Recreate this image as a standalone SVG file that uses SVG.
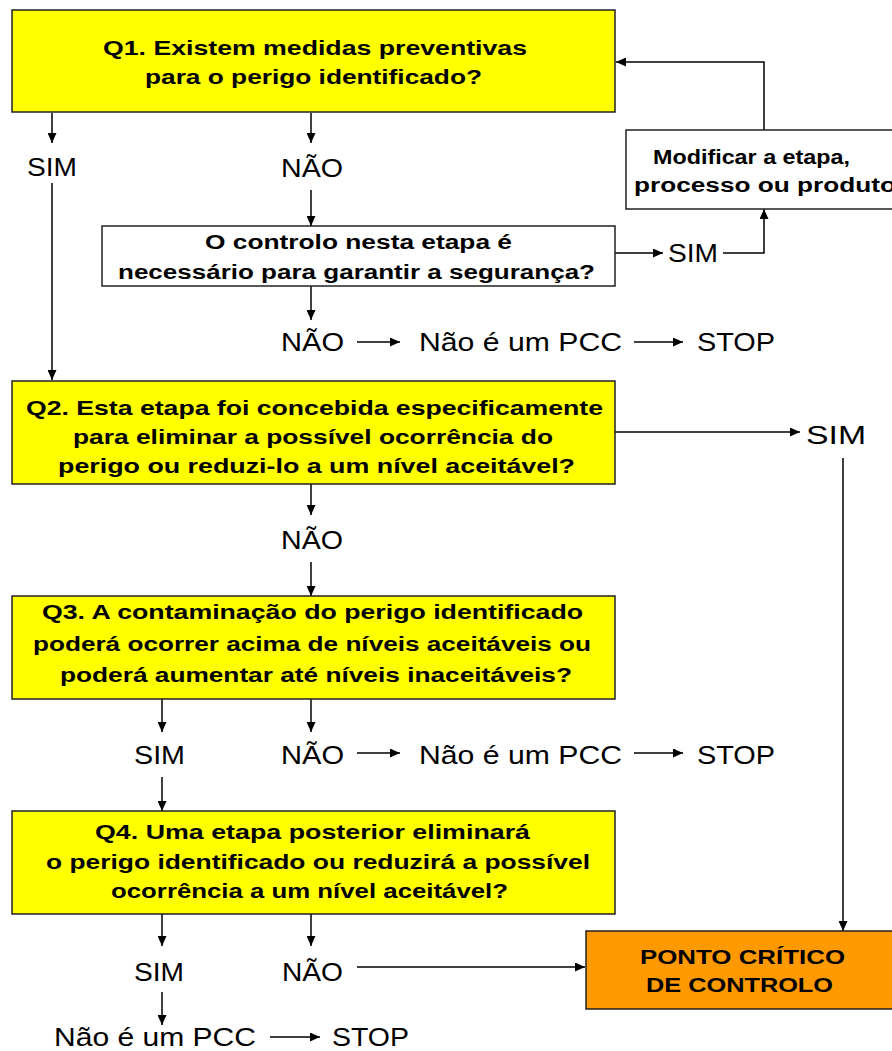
<svg xmlns="http://www.w3.org/2000/svg" width="892" height="1051" viewBox="0 0 892 1051">
<defs>
<marker id="ah" markerUnits="userSpaceOnUse" markerWidth="10" markerHeight="9" refX="10" refY="4.5" orient="auto">
<path d="M0,0 L10,4.5 L0,9 z" fill="#000"/>
</marker>
<style>
.q{fill:#FFFF00;stroke:#222;stroke-width:1.5}
.w{fill:#FFFFFF;stroke:#222;stroke-width:1.5}
.o{fill:#FF9900;stroke:#222;stroke-width:1.5}
.bt{font-family:"Liberation Sans",Arial,sans-serif;font-weight:bold;font-size:20px;fill:#000}
.lb{font-family:"Liberation Sans",Arial,sans-serif;font-size:25px;fill:#000}
.c{fill:none;stroke:#000;stroke-width:1.5}
.a{marker-end:url(#ah)}
</style>
</defs>
<rect width="892" height="1051" fill="#fff"/>

<g id="connectors">
<path class="c a" d="M52,113 V143"/>
<path class="c a" d="M311,113 V143"/>
<path class="c a" d="M52,183 V380"/>
<path class="c a" d="M311,190 V226"/>
<path class="c a" d="M615,253 H663"/>
<path class="c a" d="M723,253 H764 V209"/>
<path class="c a" d="M764,130 V62 H616"/>
<path class="c a" d="M311,286 V320"/>
<path class="c a" d="M357,342 H400"/>
<path class="c a" d="M634,342 H683"/>
<path class="c a" d="M615,432 H800"/>
<path class="c a" d="M843,458 V931"/>
<path class="c a" d="M311,484 V515"/>
<path class="c a" d="M311,562 V596"/>
<path class="c a" d="M162,699 V732"/>
<path class="c a" d="M311,699 V732"/>
<path class="c a" d="M357,753 H400"/>
<path class="c a" d="M634,753 H683"/>
<path class="c a" d="M162,777 V811"/>
<path class="c a" d="M162,914 V946"/>
<path class="c a" d="M311,914 V946"/>
<path class="c a" d="M357,967 H585"/>
<path class="c a" d="M162,992 V1025"/>
<path class="c a" d="M270,1037 H320"/>
</g>

<g id="q1">
<rect class="q" x="12" y="10" width="603" height="102"/>
<text class="bt" x="103" y="55" textLength="424" lengthAdjust="spacingAndGlyphs">Q1.  Existem medidas preventivas</text>
<text class="bt" x="145" y="84" textLength="337" lengthAdjust="spacingAndGlyphs">para o perigo identificado?</text>
</g>

<g id="q1-sim"><text class="lb" x="27" y="176" textLength="50" lengthAdjust="spacingAndGlyphs">SIM</text></g>
<g id="q1-nao"><text class="lb" x="281" y="177" textLength="62" lengthAdjust="spacingAndGlyphs">NÃO</text></g>

<g id="controlo">
<rect class="w" x="102" y="226" width="513" height="60"/>
<text class="bt" x="205" y="249" textLength="307" lengthAdjust="spacingAndGlyphs">O controlo nesta etapa é</text>
<text class="bt" x="118" y="279" textLength="477" lengthAdjust="spacingAndGlyphs">necessário para garantir a segurança?</text>
</g>

<g id="controlo-sim"><text class="lb" x="668" y="262" textLength="50" lengthAdjust="spacingAndGlyphs">SIM</text></g>

<g id="modificar">
<rect class="w" x="626" y="130" width="280" height="79"/>
<text class="bt" x="653" y="164" textLength="197" lengthAdjust="spacingAndGlyphs">Modificar a etapa,</text>
<text class="bt" x="634" y="192" textLength="262" lengthAdjust="spacingAndGlyphs">processo ou produto</text>
</g>

<g id="controlo-nao">
<text class="lb" x="281" y="351" textLength="63" lengthAdjust="spacingAndGlyphs">NÃO</text>
<text class="lb" x="419" y="351" textLength="203" lengthAdjust="spacingAndGlyphs">Não é um PCC</text>
<text class="lb" x="697" y="351" textLength="78" lengthAdjust="spacingAndGlyphs">STOP</text>
</g>

<g id="q2">
<rect class="q" x="12" y="381" width="603" height="103"/>
<text class="bt" x="26" y="415" textLength="577" lengthAdjust="spacingAndGlyphs">Q2.  Esta etapa foi concebida especificamente</text>
<text class="bt" x="73" y="444" textLength="480" lengthAdjust="spacingAndGlyphs">para eliminar a possível ocorrência do</text>
<text class="bt" x="58" y="473" textLength="517" lengthAdjust="spacingAndGlyphs">perigo ou reduzi-lo a um  nível aceitável?</text>
</g>

<g id="q2-sim"><text class="lb" x="806" y="444" textLength="60" lengthAdjust="spacingAndGlyphs">SIM</text></g>
<g id="q2-nao"><text class="lb" x="281" y="549" textLength="62" lengthAdjust="spacingAndGlyphs">NÃO</text></g>

<g id="q3">
<rect class="q" x="12" y="596" width="603" height="103"/>
<text class="bt" x="42" y="619" textLength="541" lengthAdjust="spacingAndGlyphs">Q3.  A contaminação do perigo identificado</text>
<text class="bt" x="33" y="651" textLength="558" lengthAdjust="spacingAndGlyphs">poderá ocorrer acima de níveis aceitáveis ou</text>
<text class="bt" x="60" y="682" textLength="512" lengthAdjust="spacingAndGlyphs">poderá aumentar até níveis inaceitáveis?</text>
</g>

<g id="q3-sim"><text class="lb" x="134" y="764" textLength="51" lengthAdjust="spacingAndGlyphs">SIM</text></g>
<g id="q3-nao">
<text class="lb" x="281" y="764" textLength="63" lengthAdjust="spacingAndGlyphs">NÃO</text>
<text class="lb" x="419" y="764" textLength="203" lengthAdjust="spacingAndGlyphs">Não é um PCC</text>
<text class="lb" x="697" y="764" textLength="78" lengthAdjust="spacingAndGlyphs">STOP</text>
</g>

<g id="q4">
<rect class="q" x="12" y="811" width="603" height="103"/>
<text class="bt" x="95" y="839" textLength="435" lengthAdjust="spacingAndGlyphs">Q4.  Uma etapa posterior eliminará</text>
<text class="bt" x="46" y="869" textLength="544" lengthAdjust="spacingAndGlyphs">o perigo identificado ou reduzirá a possível</text>
<text class="bt" x="111" y="898" textLength="397" lengthAdjust="spacingAndGlyphs">ocorrência a um nível aceitável?</text>
</g>

<g id="q4-sim"><text class="lb" x="134" y="981" textLength="50" lengthAdjust="spacingAndGlyphs">SIM</text></g>
<g id="q4-nao"><text class="lb" x="282" y="981" textLength="61" lengthAdjust="spacingAndGlyphs">NÃO</text></g>

<g id="pcc">
<rect class="o" x="586" y="931" width="320" height="78"/>
<text class="bt" x="640" y="964" textLength="205" lengthAdjust="spacingAndGlyphs">PONTO CRÍTICO</text>
<text class="bt" x="646" y="992" textLength="187" lengthAdjust="spacingAndGlyphs">DE CONTROLO</text>
</g>

<g id="q4-sim-end">
<text class="lb" x="54" y="1046" textLength="202" lengthAdjust="spacingAndGlyphs">Não é um PCC</text>
<text class="lb" x="332" y="1046" textLength="77" lengthAdjust="spacingAndGlyphs">STOP</text>
</g>
</svg>
